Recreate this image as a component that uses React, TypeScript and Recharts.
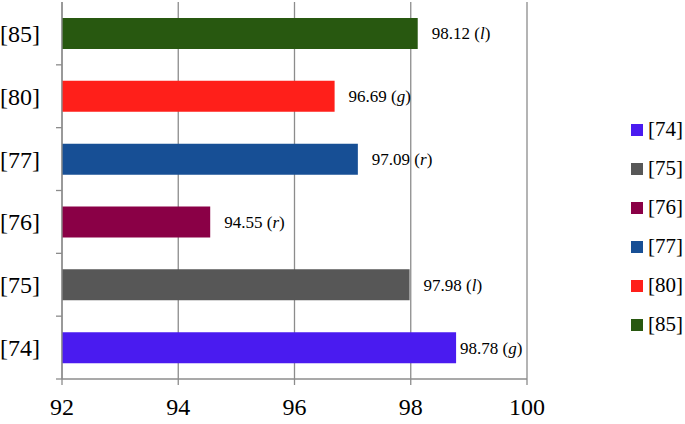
import { BarChart, Bar, XAxis, YAxis, CartesianGrid, Cell, LabelList } from 'recharts';

// top-to-bottom order as drawn
const refs = ['[85]', '[80]', '[77]', '[76]', '[75]', '[74]'];
const accuracy = [98.12, 96.69, 97.09, 94.55, 97.98, 98.78];
const tags = ['l', 'g', 'r', 'r', 'l', 'g'];
const colors = ['#285810', '#ff1f1a', '#174f95', '#8a0046', '#575757', '#4a1bf0'];
const xTicks = [92, 94, 96, 98, 100];

const FONT = 'Liberation Serif';

const data = refs.map((name, i) => ({
  name,
  value: accuracy[i],
  tag: tags[i],
  color: colors[i],
  slot: 5.5 - i,
}));

// legend reads bottom-to-top of the bars
const legendItems = refs.map((name, i) => ({ name, color: colors[i] })).reverse();

const PLOT_RIGHT = 527;

function ValueLabel(props: any) {
  const { x, y, width, height, index } = props;
  const d = data[index];
  const end = x + width;
  const textW = 62;
  // keep the label inside the plot when the bar runs close to 100
  const lx = Math.min(end + 14, PLOT_RIGHT - textW - 5);
  return (
    <text x={lx} y={y + height / 2} dy="0.35em" style={{ fontFamily: FONT }} fontSize={17} fill="#000">
      {d.value.toFixed(2)} (<tspan fontStyle="italic">{d.tag}</tspan>)
    </text>
  );
}

export default function App() {
  return (
    <div style={{ position: 'absolute', left: 0, top: 0, width: 685, height: 424, background: '#fff', fontFamily: FONT }}>
      <BarChart
        width={685}
        height={424}
        data={data}
        layout="vertical"
        margin={{ top: 2, right: 158, bottom: 0, left: 0 }}
        style={{ fontFamily: FONT }}
      >
        <CartesianGrid horizontal={false} stroke="#8c8c8c" strokeWidth={1.3} />
        <XAxis
          type="number"
          domain={[92, 100]}
          ticks={xTicks}
          allowDataOverflow
          height={45}
          tickSize={6}
          tickMargin={13}
          stroke="#8c8c8c"
          strokeWidth={1.3}
          tick={{ fill: '#000', fontSize: 24, fontFamily: FONT }}
        />
        {/* boundary tick marks between categories */}
        <YAxis
          yAxisId="bounds"
          type="number"
          dataKey="slot"
          domain={[0, 6]}
          ticks={[0, 1, 2, 3, 4, 5, 6]}
          width={6}
          tick={() => <g />}
          tickLine={{ stroke: '#8c8c8c', strokeWidth: 1.3 }}
          tickSize={6}
          stroke="#8c8c8c"
          strokeWidth={1.3}
        />
        <YAxis
          yAxisId="cat"
          type="category"
          dataKey="name"
          width={56}
          tickLine={false}
          axisLine={false}
          tickMargin={10}
          tick={{ fill: '#000', fontSize: 24, fontFamily: FONT }}
        />
        <Bar yAxisId="cat" dataKey="value" barSize={31} isAnimationActive={false}>
          {data.map((d, i) => (
            <Cell key={`c-${i}`} fill={d.color} />
          ))}
          <LabelList dataKey="value" content={ValueLabel} />
        </Bar>
      </BarChart>
      <div style={{ position: 'absolute', left: 631, top: 110, fontSize: 21 }}>
        {legendItems.map((it) => (
          <div key={it.name} style={{ display: 'flex', alignItems: 'center', height: 39 }}>
            <span style={{ width: 12, height: 12, background: it.color, marginRight: 5 }} />
            <span>{it.name}</span>
          </div>
        ))}
      </div>
    </div>
  );
}
